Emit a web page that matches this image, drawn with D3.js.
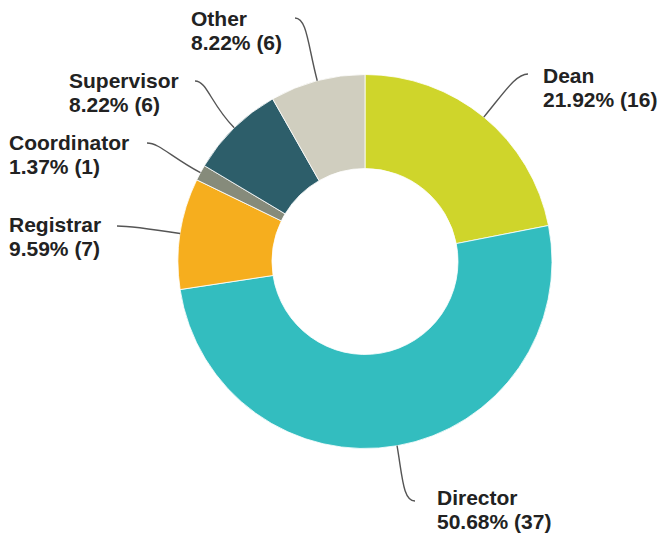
<!DOCTYPE html>
<html>
<head>
<meta charset="utf-8">
<script src="https://cdn.jsdelivr.net/npm/d3@7"></script>
<style>
  body { margin: 0; background: #fff; }
  .lbl { font-family: Arial, "Liberation Sans", sans-serif; font-weight: bold; font-size: 21px; fill: #222; }
  .leader { fill: none; stroke: #555; stroke-width: 1.4px; }
</style>
</head>
<body>
<svg id="chart"></svg>
<script>
var width = 665, height = 541;
var cx = 365, cy = 261.5,
    outerR = 187, innerR = 93;

// data
var categories = ["Dean", "Director", "Registrar", "Coordinator", "Supervisor", "Other"];
var counts = [16, 37, 7, 1, 6, 6];
var colors = ["#cfd52b", "#33bdbf", "#f6ae1e", "#868b7b", "#2d5e6a", "#d0cebf"];

// where each label sits (x, first baseline) and where its leader line ends
var labelLayout = [
  {x: 543, y: 83,  ex: 528, ey: 74,  side: 1},
  {x: 437, y: 505, ex: 415, ey: 501, side: 1},
  {x: 9,   y: 232, ex: 117, ey: 226, side: -1},
  {x: 9,   y: 150, ex: 147, ey: 143, side: -1},
  {x: 69,  y: 88,  ex: 195, ey: 81,  side: -1},
  {x: 191, y: 26,  ex: 295, ey: 18,  side: -1}
];

var total = d3.sum(counts);
var fmtPct = d3.format(".2f");

var svg = d3.select("#chart")
    .attr("width", width)
    .attr("height", height);

var g = svg.append("g")
    .attr("transform", "translate(" + cx + "," + cy + ")");

var color = d3.scaleOrdinal().domain(categories).range(colors);

var pie = d3.pie()
    .sort(null)
    .value(function(d) { return d.value; });

var rows = categories.map(function(c, i) {
    return {name: c, value: counts[i], layout: labelLayout[i]};
});

var arcs = pie(rows);

var arc = d3.arc()
    .innerRadius(innerR)
    .outerRadius(outerR);

g.selectAll(".slice")
    .data(arcs)
    .enter()
    .append("path")
    .attr("class", "slice")
    .attr("d", arc)
    .attr("fill", function(d) { return color(d.data.name); })
    .attr("stroke", "#fff")
    .attr("stroke-width", 0.8);

// leader lines: leave the ring at the slice middle, bend into a short horizontal hook
g.selectAll(".leader")
    .data(arcs)
    .enter()
    .append("path")
    .attr("class", "leader")
    .attr("d", function(d) {
        var a = (d.startAngle + d.endAngle) / 2;
        var dx = Math.sin(a), dy = -Math.cos(a);
        var x0 = dx * outerR, y0 = dy * outerR;
        var l = d.data.layout;
        var x3 = l.ex - cx, y3 = l.ey - cy;
        var dist = Math.hypot(x3 - x0, y3 - y0);
        var c1x = x0 + dx * dist * 0.55, c1y = y0 + dy * dist * 0.55;
        var c2x = x3 - l.side * 12, c2y = y3;
        return "M" + x0 + "," + y0 + "C" + c1x + "," + c1y + " " + c2x + "," + c2y + " " + x3 + "," + y3;
    });

var labels = svg.selectAll(".lbl")
    .data(arcs)
    .enter()
    .append("text")
    .attr("class", "lbl")
    .attr("x", function(d) { return d.data.layout.x; })
    .attr("y", function(d) { return d.data.layout.y; });

labels.append("tspan")
    .text(function(d) { return d.data.name; });

labels.append("tspan")
    .attr("x", function(d) { return d.data.layout.x; })
    .attr("dy", 24)
    .text(function(d) { return fmtPct(d.data.value / total * 100) + "% (" + d.data.value + ")"; });
</script>
</body>
</html>
